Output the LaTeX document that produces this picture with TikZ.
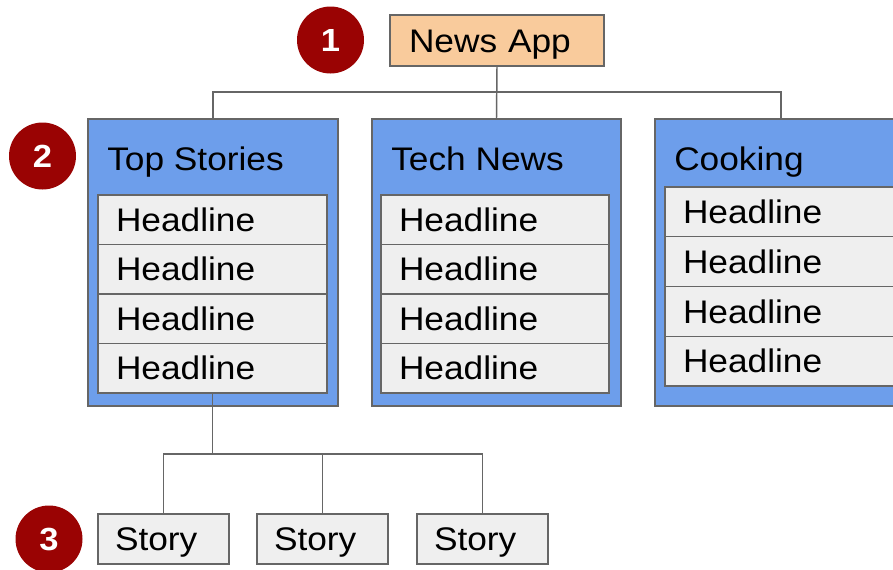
\documentclass[tikz,border=0pt]{standalone}
\usepackage{fontspec}
\setmainfont{Liberation Sans}[FakeStretch=1.08]
\definecolor{bluefill}{HTML}{6D9EEB}
\definecolor{rowfill}{HTML}{EFEFEF}
\definecolor{appfill}{HTML}{F9CB9C}
\definecolor{lineg}{HTML}{666666}
\definecolor{circ}{HTML}{9A0303}
\newcommand{\dfont}{\fontsize{24.5pt}{29pt}\selectfont}
\tikzset{
  conn/.style={draw=lineg, line width=1.1pt},
  basebox/.style={draw=lineg, line width=1.1pt, font=\dfont, text height=17.5pt, text depth=0pt, inner ysep=0pt},
  appbox/.style={basebox, fill=appfill, minimum height=38.25pt, inner xsep=14.25pt, text width=132pt, align=left},
  catbox/.style={draw=lineg, line width=1.1pt, fill=bluefill, minimum height=215.25pt, inner sep=0pt},
  cattitle/.style={font=\dfont, text height=17.5pt, text depth=0pt, inner sep=0pt, anchor=west},
  rowbox/.style={basebox, line width=0.9pt, fill=rowfill, minimum height=37.125pt, inner xsep=13.5pt, align=left},
  storybox/.style={basebox, line width=0.9pt, fill=rowfill, minimum height=37.5pt, inner xsep=12.75pt, text width=72.75pt, align=left},
  numcirc/.style={circle, fill=circ, minimum size=50.25pt, inner sep=0pt, text=white, font=\fontsize{24pt}{28pt}\selectfont\bfseries}
}
\begin{document}
\begin{tikzpicture}[x=0.75pt,y=-0.75pt]
\useasboundingbox (0,0) rectangle (893,569);
\clip (0,0) rectangle (893,569);
\fill[white] (0,0) rectangle (893,569);

% top level
\node[appbox] (app) at (497,40.5) {News App};
\node[numcirc] (c1) at (330.5,40) {1};

% categories
\node[catbox, minimum width=187.5pt] (ts) at (213,262.5) {};
\node[catbox, minimum width=186.75pt] (tn) at (496.5,262.5) {};
\node[catbox, minimum width=189pt] (ck) at (781,262.5) {};
\node[numcirc] (c2) at (42.5,156) {2};

\node[cattitle] (tst) at (107,158.5) {Top Stories};
\node[cattitle] (tnt) at (391,158.5) {Tech News};
\node[cattitle] (ckt) at (674,158.5) {Cooking};

% headlines
\foreach \i/\y in {1/219.75, 2/269.25, 3/318.75, 4/368.25} {
  \node[rowbox, text width=144.75pt] (ha\i) at (212.5,\y) {Headline};
  \node[rowbox, text width=144pt] (hb\i) at (495,\y) {Headline};
}
\foreach \i/\y in {1/211.9, 2/261.6, 3/311.4, 4/361.1} {
  \node[rowbox, minimum height=37.3pt, text width=144.75pt] (hc\i) at (779.5,\y) {Headline};
}

% stories
\node[storybox] (s1) at (163.5,539) {Story};
\node[storybox] (s2) at (322.5,539) {Story};
\node[storybox] (s3) at (482.5,539) {Story};
\node[numcirc] (c3) at (49,539) {3};

% connectors
\coordinate (j1) at (497,92);
\draw[conn] (app.south) -- (tn.north);
\draw[conn] (ts.north) |- (j1) -| (ck.north);

\coordinate (j2) at (212,454);
\draw[conn] (ha4.south) -- (ha4.south |- j2);
\draw[conn] (s1.north) |- (j2) -| (s3.north);
\draw[conn] (s2.north) -- (s2.north |- j2);
\end{tikzpicture}
\end{document}
